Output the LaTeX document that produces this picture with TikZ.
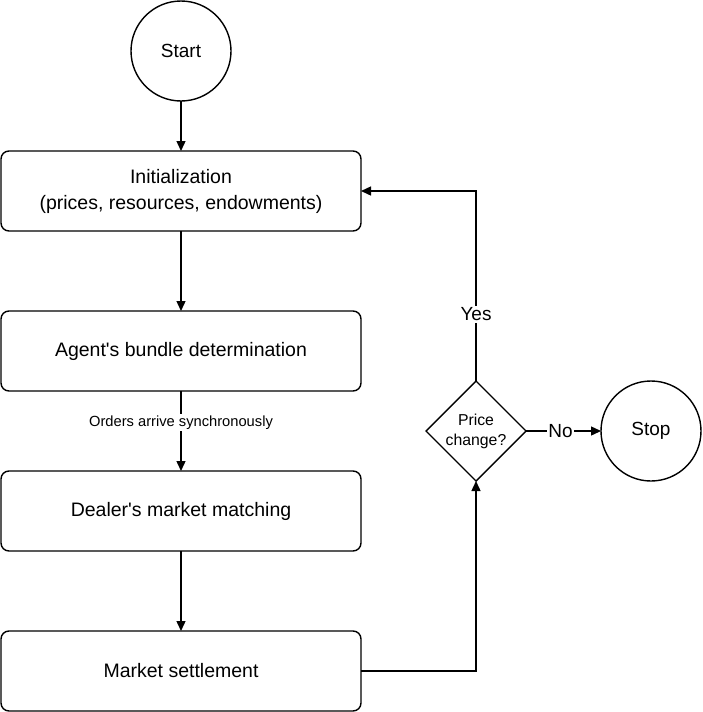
\documentclass[tikz,border=0pt]{standalone}
\usepackage{fontspec}
\setmainfont{Liberation Sans}
\usetikzlibrary{arrows.meta,shapes.geometric}
\begin{document}
\begin{tikzpicture}[x=1pt,y=-1pt,
  every node/.style={inner sep=0pt,outer sep=0pt},
  procbox/.style={draw,line width=1.4pt,rounded corners=8pt,minimum width=360pt,minimum height=80pt,font=\fontsize{19.5}{26}\selectfont,align=center},
  term/.style={draw,circle,line width=1.4pt,minimum size=100pt,font=\fontsize{19}{23}\selectfont},
  decide/.style={draw,diamond,aspect=1,line width=1.4pt,minimum size=100pt,font=\fontsize{15.8}{20}\selectfont,align=center},
  conn/.style={line width=1.4pt,-{Triangle[length=10pt,width=9pt]}},
  lab/.style={fill=white,inner sep=1.5pt,font=\fontsize{19}{23}\selectfont}]
\useasboundingbox (0,0) rectangle (702,712);
\node[term] (start) at (181,51) {Start};
\node[procbox] (init) at (181,191) {Initialization\\(prices, resources, endowments)};
\node[procbox] (agent) at (181,351) {Agent\textquotesingle s bundle determination};
\node[procbox] (dealer) at (181,511) {Dealer\textquotesingle s market matching};
\node[procbox] (settle) at (181,671) {Market settlement};
\node[decide] (dec) at (476,431) {Price\\change?};
\node[term] (stop) at (651,431) {Stop};
\draw[conn] (start) -- (init);
\draw[conn] (init) -- (agent);
\draw[conn] (agent) -- node[pos=0.39,fill=white,inner sep=1.5pt,font=\fontsize{14.7}{17}\selectfont]{Orders arrive synchronously} (dealer);
\draw[conn] (dealer) -- (settle);
\draw[conn] (settle.east) -| (dec.south);
\draw[conn] (dec.north) -- node[lab,pos=0.35]{Yes} (dec.north |- init.east) -- (init.east);
\draw[conn] (dec.east) -- node[lab,pos=0.46]{No} (stop.west);
\end{tikzpicture}
\end{document}
